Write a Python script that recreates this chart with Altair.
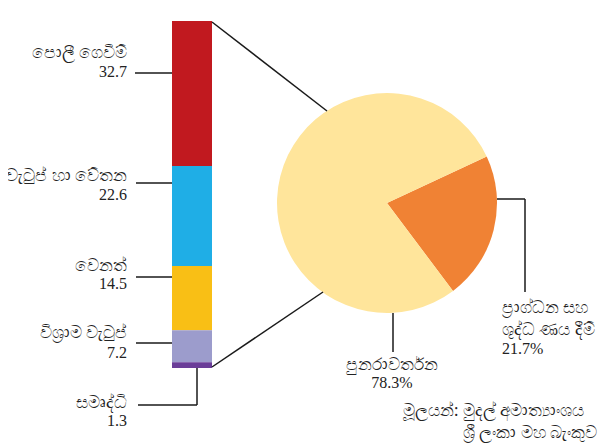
import math
import altair as alt
import pandas as pd

# ---- data ----
categories = ["පොලී ගෙවීම්", "වැටුප් හා වේතන", "වෙනත්", "විශ්‍රාම වැටුප්", "සමෘද්ධි"]
values = [32.7, 22.6, 14.5, 7.2, 1.3]
bar_colors = ["#C1191F", "#1FAEE6", "#F9BF15", "#9C9CCC", "#6A3D98"]

pie_labels = ["ප්‍රාග්ධන සහ ශුද්ධ ණය දීම්", "පුනරාවර්තන"]
pie_values = [21.7, 78.3]
pie_colors = ["#F08234", "#FFE59B"]

source_lines = ["මූලයන්: මුදල් අමාත්‍යාංශය", "ශ්‍රී ලංකා මහ බැංකුව"]

# ---- layout (page pixels, chart origin at page 8,8) ----
O = 8
def P(v):
    return v - O

bar_df = pd.DataFrame({"cat": categories, "value": values, "idx": list(range(len(values)))})
pie_df = pd.DataFrame({"cat": pie_labels, "value": pie_values, "idx": [0, 1]})

total = sum(values)
start = math.radians(65)

bar = alt.Chart(bar_df).transform_stack(
    stack="value", as_=["y0", "y1"], groupby=[],
    sort=[alt.SortField("idx", order="descending")]
).mark_rect().encode(
    x=alt.value(P(172)), x2=alt.value(P(212)),
    y=alt.Y("y0:Q", scale=alt.Scale(domain=[0, total], range=[P(368), P(21)]), axis=None),
    y2="y1:Q",
    color=alt.Color("cat:N", scale=alt.Scale(domain=categories, range=bar_colors), legend=None),
)

pie = alt.Chart(pie_df).mark_arc(outerRadius=110).encode(
    theta=alt.Theta("value:Q", stack=True, scale=alt.Scale(range=[start, start + 2 * math.pi])),
    order=alt.Order("idx:Q"),
    color=alt.Color("cat:N", scale=alt.Scale(domain=pie_labels, range=pie_colors), legend=None),
    x=alt.value(P(387)), y=alt.value(P(203)),
)

# leader lines (annotation geometry)
segs = [
    (212, 22, 327, 111), (212, 367, 323, 292),
    (135, 73, 172, 73), (136, 183, 172, 183), (136, 277, 172, 277), (136, 343, 172, 343),
    (197, 368, 197, 405), (197, 405, 138, 405),
    (497, 199, 525, 199), (525, 199, 525, 292),
    (393, 313, 393, 352),
]
rule_df = pd.DataFrame([{"x1": P(a), "y1": P(b), "x2": P(c), "y2": P(d)} for a, b, c, d in segs])
rules = alt.Chart(rule_df).mark_rule(color="#1a1a1a", strokeWidth=1.5).encode(
    x=alt.X("x1:Q", scale=None, axis=None), y=alt.Y("y1:Q", scale=None, axis=None),
    x2="x2:Q", y2="y2:Q",
)

name_font = "Noto Sans"
num_font = "Liberation Serif"
fs = 16.5
nfs = 16

def txt(df, align, font, size, xf="x", yf="y", tf="t"):
    return alt.Chart(df).mark_text(align=align, baseline="alphabetic", font=font, fontSize=size, color="#222").encode(
        x=alt.X(f"{xf}:Q", scale=None, axis=None), y=alt.Y(f"{yf}:Q", scale=None, axis=None), text=f"{tf}:N")

name_y = [58, 181, 271, 338, 408]
val_y = [77, 200, 289, 358, 426]
left_df = pd.DataFrame({
    "name": categories,
    "val": [f"{v:.1f}" for v in values],
    "tx": [P(127)] * len(values),
    "ny": [P(y) for y in name_y],
    "vy": [P(y) for y in val_y],
})
left_names = txt(left_df, "right", name_font, fs, "tx", "ny", "name")
left_vals = txt(left_df, "right", num_font, nfs, "tx", "vy", "val")

right_df = pd.DataFrame({
    "t": ["ප්‍රාග්ධන සහ", "ශුද්ධ ණය දීම්", "පුනරාවර්තන"],
    "x": [P(502), P(502), P(392)],
    "y": [P(313), P(335), P(370)],
})
right_names_l = txt(right_df.iloc[:2], "left", name_font, fs)
right_names_c = txt(right_df.iloc[2:], "center", name_font, fs)

pv_df = pd.DataFrame({
    "t": [f"{v:.1f}%" for v in pie_values],
    "x": [P(502), P(392)],
    "y": [P(354), P(388)],
})
pv_l = txt(pv_df.iloc[:1], "left", num_font, nfs)
pv_c = txt(pv_df.iloc[1:], "center", num_font, nfs)

src_df = pd.DataFrame({"t": source_lines, "x": [P(403), P(597)], "y": [P(416), P(438)]})
src1 = txt(src_df.iloc[:1], "left", name_font, fs)
src2 = txt(src_df.iloc[1:], "right", name_font, fs)

chart = alt.layer(
    bar, pie, rules, left_names, left_vals, right_names_l, right_names_c, pv_l, pv_c, src1, src2
).resolve_scale(
    x="independent", y="independent", color="independent", theta="independent"
).properties(
    width=590, height=437, autosize=alt.AutoSizeParams(type="none"), padding=0,
).configure_view(stroke=None)

chart.save("out.html", embed_options={"renderer": "svg", "actions": False})
